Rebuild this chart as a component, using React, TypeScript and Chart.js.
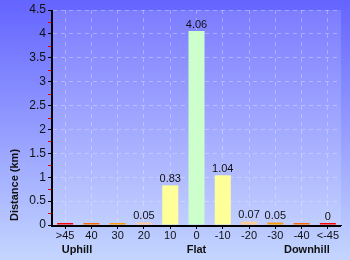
import React, { useEffect, useRef } from "react";
import { Chart, registerables } from "chart.js";

Chart.register(...registerables);

const categories = [">45", "40", "30", "20", "10", "0", "-10", "-20", "-30", "-40", "<-45"];
const distances = [0.01, 0.01, 0.01, 0.05, 0.83, 4.06, 1.04, 0.07, 0.05, 0.01, 0];
const valueLabels = ["", "", "", "0.05", "0.83", "4.06", "1.04", "0.07", "0.05", "", "0"];
const barColors = ["#ff0000", "#ff6600", "#ff9900", "#ffcc99", "#ffff99", "#ccffcc", "#ffff99", "#ffcc99", "#ff9900", "#ff6600", "#ff0000"];
const groupLabels = ["Uphill", "Flat", "Downhill"];
const groupPositions = [0.45, 5, 9.2];
const yTitle = "Distance (km)";

const FONT = "'Liberation Sans', Arial, sans-serif";

const decorPlugin = {
  id: "decor",
  beforeDraw(chart: any) {
    const { ctx, width, height, chartArea } = chart;
    ctx.save();
    const g = ctx.createLinearGradient(0, 0, 0, height);
    g.addColorStop(0, "#6464ff");
    g.addColorStop(1, "#c4d6ff");
    ctx.fillStyle = g;
    ctx.fillRect(0, 0, width, height);
    ctx.fillStyle = "rgba(255,255,255,0.14)";
    ctx.fillRect(chartArea.left, chartArea.top, chartArea.right - chartArea.left, chartArea.bottom - chartArea.top);
    ctx.restore();
  },
  afterDraw(chart: any) {
    const { ctx, chartArea } = chart;
    const x = chart.scales.x;
    const y = chart.scales.y;
    ctx.save();
    const left = Math.round(chartArea.left);
    const top = Math.round(chartArea.top);
    const bottom = Math.round(chartArea.bottom);
    const right = Math.round(chartArea.right);
    // minor red ticks
    ctx.fillStyle = "#e00000";
    for (let v = 0.25; v < 4.5; v += 0.5) {
      const py = Math.round(y.getPixelForValue(v));
      ctx.fillRect(left - 4, py, 3, 1);
    }
    // solid axis lines
    ctx.fillStyle = "#000000";
    ctx.fillRect(left - 1, top, 2, bottom - top + 2);
    ctx.fillRect(left - 1, bottom, right - left + 1, 2);
    // value labels
    ctx.fillStyle = "#111";
    ctx.font = "11px " + FONT;
    ctx.textAlign = "center";
    ctx.textBaseline = "bottom";
    const meta = chart.getDatasetMeta(0);
    meta.data.forEach((bar: any, i: number) => {
      if (!valueLabels[i]) return;
      ctx.fillText(valueLabels[i], bar.x, bar.y - 1);
    });
    // group labels
    ctx.font = "bold 11px " + FONT;
    ctx.textBaseline = "middle";
    groupLabels.forEach((t, i) => {
      ctx.fillText(t, x.getPixelForValue(groupPositions[i]), 250);
    });
    // y title
    ctx.translate(15, 185);
    ctx.rotate(-Math.PI / 2);
    ctx.fillText(yTitle, 0, 0);
    ctx.restore();
  },
};

export default function App() {
  const ref = useRef<HTMLCanvasElement>(null);
  useEffect(() => {
    document.body.style.margin = "0";
    const chart = new Chart(ref.current!, {
      type: "bar",
      data: {
        labels: categories,
        datasets: [
          {
            data: distances,
            backgroundColor: barColors,
            borderWidth: 0,
            barPercentage: 0.61,
            categoryPercentage: 1,
            minBarLength: 2,
          },
        ],
      },
      options: {
        animation: false,
        responsive: false,
        devicePixelRatio: 1,
        layout: { padding: { top: 10, right: 9, left: 0, bottom: 0 } },
        plugins: { legend: { display: false }, tooltip: { enabled: false } },
        scales: {
          x: {
            afterFit: (s: any) => {
              s.height = 35;
            },
            grid: {
              offset: false,
              color: "rgba(255,255,255,0.3)",
              tickColor: "#000",
              tickLength: 4,
            },
            border: { color: "#000", width: 1, dash: [4, 4] },
            ticks: {
              color: "#111",
              font: { family: FONT, size: 11 },
              padding: 0,
              maxRotation: 0,
              autoSkip: false,
            },
          },
          y: {
            min: 0,
            max: 4.5,
            afterFit: (s: any) => {
              s.width = 52;
            },
            grid: {
              color: "rgba(255,255,255,0.3)",
              tickColor: "#000",
              tickLength: 4,
            },
            border: { color: "#000", width: 1, dash: [4, 4] },
            ticks: {
              stepSize: 0.5,
              color: "#111",
              font: { family: FONT, size: 12 },
              padding: 2,
              callback: (v: any) => String(v),
            },
          },
        },
      },
      plugins: [decorPlugin],
    });
    return () => chart.destroy();
  }, []);
  return (
    <div style={{ position: "absolute", left: 0, top: 0, width: 350, height: 260 }}>
      <canvas ref={ref} width={350} height={260} />
    </div>
  );
}
